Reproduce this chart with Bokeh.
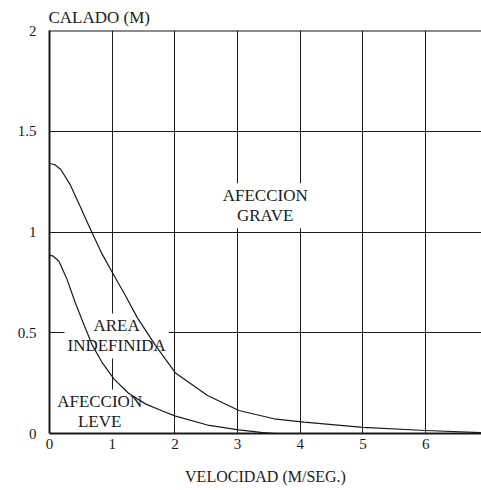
from bokeh.plotting import figure
from bokeh.models import Range1d, Span, FixedTicker
from bokeh.core.properties import value
from bokeh.embed import file_html
from bokeh.resources import INLINE

# ---- data ----
velocity_upper = [0, 0.08, 0.18, 0.33, 0.47, 0.60, 0.71, 0.84, 1.0, 1.21, 1.40, 1.69, 2.01, 2.52, 3.02, 3.58, 4.06, 5.0, 6.0, 6.89]
depth_upper = [1.34, 1.335, 1.31, 1.235, 1.14, 1.05, 0.975, 0.89, 0.80, 0.685, 0.575, 0.437, 0.30, 0.189, 0.114, 0.073, 0.056, 0.03, 0.015, 0.004]

velocity_lower = [0, 0.06, 0.15, 0.28, 0.41, 0.55, 0.68, 0.84, 1.03, 1.26, 1.53, 1.80, 2.01, 2.52, 3.02, 3.37, 3.6]
depth_lower = [0.885, 0.88, 0.855, 0.765, 0.65, 0.54, 0.44, 0.352, 0.27, 0.20, 0.147, 0.112, 0.086, 0.042, 0.018, 0.006, 0.0]

x_ticks = [0, 1, 2, 3, 4, 5, 6]
x_tick_labels = ["0", "1", "2", "3", "4", "5", "6"]
y_ticks = [0, 0.5, 1, 1.5, 2]
y_tick_labels = ["0", "0.5", "1", "1.5", "2"]

region_labels = ["AFECCION\nGRAVE", "AREA\nINDEFINIDA", "AFECCION\nLEVE"]
region_x = [3.44, 1.07, 0.80]
region_y = [1.13, 0.484, 0.107]

y_title = "CALADO (M)"
x_title = "VELOCIDAD (M/SEG.)"

FONT = "Liberation Serif"
INK = "#1a1a1a"

p = figure(width=481, height=490,
           x_range=Range1d(0, 6.89), y_range=Range1d(0, 2),
           output_backend="svg", toolbar_location=None,
           min_border_left=49, min_border_right=0,
           min_border_top=30, min_border_bottom=57)
p.outline_line_color = None
p.background_fill_color = "white"
p.border_fill_color = "white"

# title (y-axis name, top left)
p.title.text = y_title
p.title.align = "left"
p.title.text_font = FONT
p.title.text_font_size = "17px"
p.title.text_font_style = "normal"
p.title.text_color = INK
p.title.standoff = 7
p.title.offset = -1

# axes
for ax in (p.xaxis, p.yaxis):
    ax.axis_line_color = INK
    ax.axis_line_width = 2
    ax.major_tick_out = 0
    ax.major_tick_in = 0
    ax.minor_tick_out = 0
    ax.minor_tick_in = 0
    ax.major_label_text_font = FONT
    ax.major_label_text_font_size = "15px"
    ax.major_label_text_color = INK

p.xaxis.ticker = FixedTicker(ticks=x_ticks)
p.xaxis.major_label_overrides = {t: l for t, l in zip(x_ticks, x_tick_labels)}
p.xaxis.major_label_standoff = 5
p.xaxis.axis_label = x_title
p.xaxis.axis_label_text_font = FONT
p.xaxis.axis_label_text_font_size = "16px"
p.xaxis.axis_label_text_font_style = "normal"
p.xaxis.axis_label_text_color = INK
p.xaxis.axis_label_standoff = 16

p.yaxis.ticker = FixedTicker(ticks=y_ticks)
p.yaxis.major_label_overrides = {t: l for t, l in zip(y_ticks, y_tick_labels)}
p.yaxis.major_label_standoff = 13

# grid
p.xgrid.ticker = FixedTicker(ticks=x_ticks[1:])
p.ygrid.ticker = FixedTicker(ticks=y_ticks[1:-1])
for g in (p.xgrid, p.ygrid):
    g.grid_line_color = INK
    g.grid_line_width = 1
    g.grid_line_alpha = 1.0

# top border line
p.add_layout(Span(location=2, dimension="width", line_color=INK, line_width=2))

# region labels with white boxes that break the grid
p.text(x=region_x, y=region_y, text=region_labels,
       text_font=value(FONT), text_font_size="17px",
       text_align="center", text_baseline="middle",
       text_line_height=1.05, text_color=INK,
       background_fill_color="white", padding=3)

# curves
p.line(velocity_upper, depth_upper, line_color=INK, line_width=1.2, line_join="round")
p.line(velocity_lower, depth_lower, line_color=INK, line_width=1.2, line_join="round")

open("out.html", "w").write(file_html(p, INLINE))
